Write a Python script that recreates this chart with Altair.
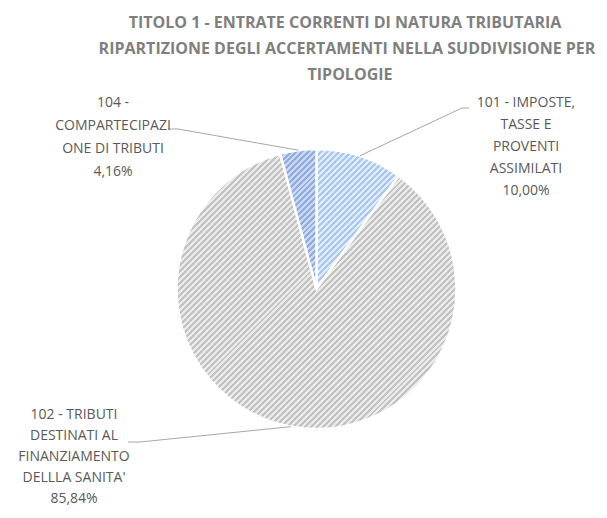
import math
import altair as alt
import pandas as pd

# ---------------- data ----------------
codes = ["101", "102", "104"]
labels = [
    "101 - IMPOSTE,\nTASSE E\nPROVENTI\nASSIMILATI",
    "102 - TRIBUTI\nDESTINATI AL\nFINANZIAMENTO\nDELLLA SANITA'",
    "104 -\nCOMPARTECIPAZI\nONE DI TRIBUTI",
]
percents = [10.00, 85.84, 4.16]
pct_text = ["10,00%", "85,84%", "4,16%"]
title_lines = [
    "TITOLO 1 - ENTRATE CORRENTI DI NATURA TRIBUTARIA",
    "RIPARTIZIONE DEGLI ACCERTAMENTI NELLA SUDDIVISIONE PER",
    "TIPOLOGIE",
]

# ---------------- layout / style ----------------
M = 8  # page margin
W, H = 591, 502
CX, CY, R = 316.5 - M, 289 - M, 140
stripe_dark = {"101": "#a9c8ef", "102": "#c2c2c2", "104": "#8fabdf"}
stripe_light = {"101": "#e2ecf9", "102": "#ebebeb", "104": "#ccdaf1"}
label_pos = {  # centre x, first-line centre y, line height (page coords)
    "101": (526, 103, 22.0),
    "102": (74, 415, 21.0),
    "104": (113, 103, 23.0),
}
leader_end = {  # label-side end of leader line (page coords): elbow, tip
    "101": [(469, 108), (462, 108)],
    "102": [(128, 442), (140, 442)],
    "104": [(168, 129), (178, 129)],
}

# cumulative angles
starts, ends = [], []
acc = 0.0
for p in percents:
    starts.append(acc)
    acc += p
    ends.append(acc)
total = acc

pie = pd.DataFrame({"code": codes, "start": starts, "end": ends})


def pt(theta_deg, r):
    t = math.radians(theta_deg)
    return CX + r * math.sin(t), CY - r * math.cos(t)


def bbox(a0, a1):
    xs, ys = [CX], [CY]
    for a in [a0, a1] + [k * 90 for k in range(9) if a0 < k * 90 < a1]:
        x, y = pt(a, R)
        xs.append(x)
        ys.append(y)
    return max(xs) - min(xs), max(ys) - min(ys)


def hatch(code, a0, a1, period=4.2):
    w, h = bbox(a0, a1)
    k = (w + h) / (w * w + h * h)
    n = max(4, int(round((w + h) / (math.sqrt(2) * period))))
    stops = []
    for i in range(n):
        a = i / n
        b = (i + 0.5) / n
        c = (i + 1) / n
        stops += [
            {"offset": a, "color": stripe_dark[code]},
            {"offset": b, "color": stripe_dark[code]},
            {"offset": b, "color": stripe_light[code]},
            {"offset": c, "color": stripe_light[code]},
        ]
    return {"gradient": "linear", "x1": 0, "y1": 0, "x2": w * k, "y2": h * k, "stops": stops}


theta_scale = alt.Scale(domain=[0, total])
layers = []
for code, s, e in zip(codes, starts, ends):
    a0, a1 = s / total * 360, e / total * 360
    layers.append(
        alt.Chart(pie)
        .transform_filter(alt.datum.code == code)
        .mark_arc(outerRadius=R, fill=hatch(code, a0, a1), stroke="white", strokeWidth=2.5)
        .encode(
            theta=alt.Theta("start:Q", scale=theta_scale),
            theta2="end:Q",
            x=alt.value(CX),
            y=alt.value(CY),
        )
    )

# leader lines
rows = []
for code, s, e in zip(codes, starts, ends):
    mid = (s + e) / 2 / total * 360
    px, py = pt(mid, R)
    (ex, ey), (tx, ty) = leader_end[code]
    pts = [(ex - M, ey - M), (tx - M, ty - M), (px, py)]
    for i, (x, y) in enumerate(pts):
        rows.append({"code": code, "i": i, "x": x, "y": y})
lines = pd.DataFrame(rows)
layers.append(
    alt.Chart(lines)
    .mark_line(color="#a6a6a6", strokeWidth=1)
    .encode(
        x=alt.X("x:Q", scale=None),
        y=alt.Y("y:Q", scale=None),
        detail="code:N",
        order="i:Q",
    )
)

# labels (Vega places the first line at y with baseline "middle")
for code, lab, pt_ in zip(codes, labels, pct_text):
    x, y0, lh = label_pos[code]
    labdf = pd.DataFrame({"text": [lab + "\n" + pt_], "x": [x - M], "y": [y0 - M]})
    layers.append(
        alt.Chart(labdf)
        .mark_text(
            font="Open Sans", fontSize=14, color="#595959", lineBreak="\n",
            lineHeight=lh, align="center", baseline="middle",
        )
        .encode(x=alt.X("x:Q", scale=None), y=alt.Y("y:Q", scale=None), text="text:N")
    )

# title
title_df = pd.DataFrame({
    "text": title_lines,
    "x": [345 - M, 347 - M, 350 - M],
    "y": [23 - M, 49 - M, 75 - M],
})
layers.append(
    alt.Chart(title_df)
    .mark_text(
        font="Open Sans", fontSize=16, fontWeight="bold", color="#7f7f7f",
        align="center", baseline="middle",
    )
    .encode(x=alt.X("x:Q", scale=None), y=alt.Y("y:Q", scale=None), text="text:N")
)

chart = (
    alt.layer(*layers)
    .properties(width=W, height=H, autosize="none", padding=0)
    .configure_view(stroke=None)
)
chart.save("out.html", embed_options={"renderer": "svg", "actions": False})
